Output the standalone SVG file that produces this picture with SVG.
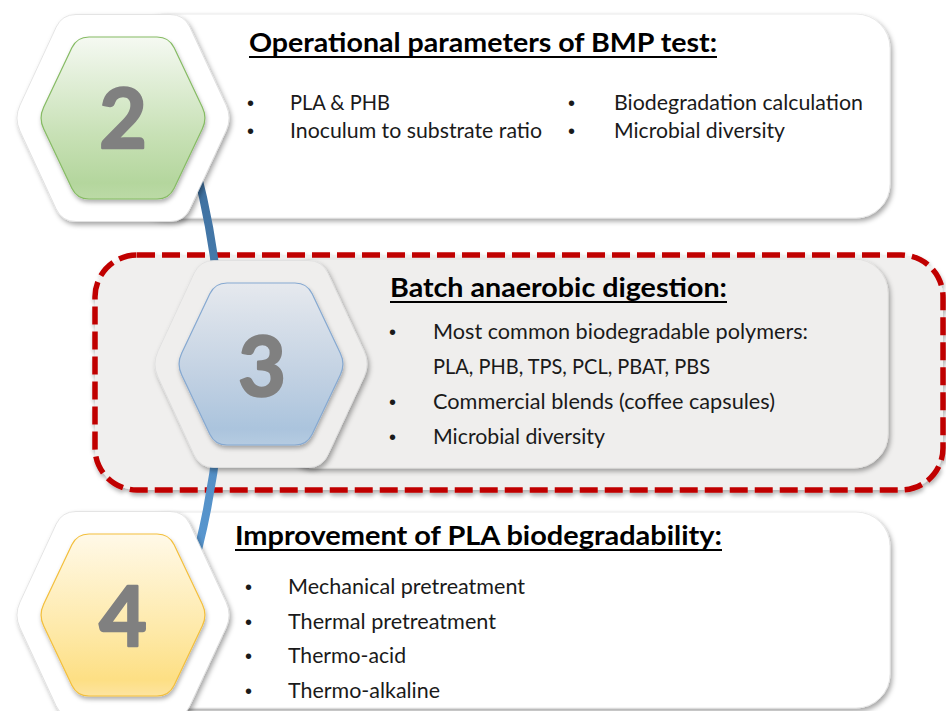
<svg xmlns="http://www.w3.org/2000/svg" width="946" height="711" viewBox="0 0 946 711">
<defs>
<style>
.title{font-family:Lato,"Liberation Sans",sans-serif;font-weight:bold;font-size:27px;fill:#000}
.body{font-family:Lato,"Liberation Sans",sans-serif;font-size:21px;fill:#1a1a1a}
.bul{font-family:"Liberation Sans",sans-serif;font-size:20px;fill:#1a1a1a}
.num{font-family:Lato,"Liberation Sans",sans-serif;font-weight:bold;font-size:82px;fill:#808080;stroke:#808080;stroke-width:2.5;stroke-linejoin:round;text-anchor:middle}
.ul{stroke:#000;stroke-width:2}
.card{fill:#fff;stroke:#e4e4e4;stroke-width:0.8}
.outer{stroke:#dedede;stroke-width:0.8}
</style>
<filter id="sh" x="-10%" y="-10%" width="125%" height="130%">
<feDropShadow dx="2" dy="3" stdDeviation="2.5" flood-color="#000" flood-opacity="0.35"/>
</filter>
<filter id="shd" x="-5%" y="-10%" width="110%" height="130%">
<feDropShadow dx="1" dy="3" stdDeviation="2" flood-color="#000" flood-opacity="0.3"/>
</filter>
<linearGradient id="gGreen" x1="0" y1="0" x2="0" y2="1">
<stop offset="0" stop-color="#f5f9f2"/><stop offset="0.6" stop-color="#c8e1b6"/><stop offset="0.9" stop-color="#b4d69d"/><stop offset="1" stop-color="#bcdaa6"/>
</linearGradient>
<linearGradient id="gBlue" x1="0" y1="0" x2="0" y2="1">
<stop offset="0" stop-color="#e6e9ee"/><stop offset="0.6" stop-color="#c0d0e2"/><stop offset="0.9" stop-color="#abc4dd"/><stop offset="1" stop-color="#b5cbe1"/>
</linearGradient>
<linearGradient id="gYellow" x1="0" y1="0" x2="0" y2="1">
<stop offset="0" stop-color="#fff9e8"/><stop offset="0.6" stop-color="#fee9a8"/><stop offset="0.9" stop-color="#fddf84"/><stop offset="1" stop-color="#fde4a0"/>
</linearGradient>
<linearGradient id="gLine" gradientUnits="userSpaceOnUse" x1="0" y1="140" x2="0" y2="586">
<stop offset="0" stop-color="#3c6c9a"/><stop offset="1" stop-color="#5b9bd5"/>
</linearGradient>
<path id="hexOuter" d="M -47,-103.5 L 47,-103.5 Q 61,-103.5 66.9,-90.8 L 103.1,-12.7 Q 109,0 103.1,12.7 L 66.9,90.8 Q 61,103.5 47,103.5 L -47,103.5 Q -61,103.5 -66.9,90.8 L -103.1,12.7 Q -109,0 -103.1,-12.7 L -66.9,-90.8 Q -61,-103.5 -47,-103.5 Z"/>
<path id="hexInner" d="M -34,-81 L 34,-81 Q 46,-81 51.15,-70.2 L 79.35,-10.8 Q 84.5,0 79.35,10.8 L 51.15,70.2 Q 46,81 34,81 L -34,81 Q -46,81 -51.15,70.2 L -79.35,10.8 Q -84.5,0 -79.35,-10.8 L -51.15,-70.2 Q -46,-81 -34,-81 Z"/>
</defs>
<rect width="946" height="711" fill="#fff"/>

<!-- highlight frame -->
<g id="highlight">
<rect x="95" y="255" width="848" height="235" rx="42" fill="#f0efee" stroke="#c00000" stroke-width="5.5" stroke-dasharray="18 7" filter="url(#shd)"/>
</g>

<!-- cards -->
<g id="card2">
<rect class="card" x="130" y="14" width="760" height="204" rx="34" filter="url(#sh)"/>
<text class="title" x="249" y="52" textLength="468" lengthAdjust="spacingAndGlyphs">Operational parameters of BMP test:</text>
<line class="ul" x1="249" y1="57" x2="717" y2="57"/>
<text class="bul" x="247" y="110">•</text>
<text class="body" x="290" y="110" textLength="100" lengthAdjust="spacingAndGlyphs">PLA &amp; PHB</text>
<text class="bul" x="247" y="138">•</text>
<text class="body" x="290" y="138" textLength="252" lengthAdjust="spacingAndGlyphs">Inoculum to substrate ratio</text>
<text class="bul" x="568" y="110">•</text>
<text class="body" x="614" y="110" textLength="249" lengthAdjust="spacingAndGlyphs">Biodegradation calculation</text>
<text class="bul" x="568" y="138">•</text>
<text class="body" x="614" y="138" textLength="171" lengthAdjust="spacingAndGlyphs">Microbial diversity</text>
</g>

<g id="card3">
<rect x="280" y="259" width="608" height="209" rx="34" fill="#efeeed" stroke="#e2e1e0" stroke-width="0.8" filter="url(#sh)"/>
<text class="title" x="390" y="297" textLength="337" lengthAdjust="spacingAndGlyphs">Batch anaerobic digestion:</text>
<line class="ul" x1="390" y1="302" x2="727" y2="302"/>
<text class="bul" x="389" y="339">•</text>
<text class="body" x="433" y="339" textLength="375" lengthAdjust="spacingAndGlyphs">Most common biodegradable polymers:</text>
<text class="body" x="433" y="374" textLength="277" lengthAdjust="spacingAndGlyphs">PLA, PHB, TPS, PCL, PBAT, PBS</text>
<text class="bul" x="389" y="409">•</text>
<text class="body" x="433" y="409" textLength="342" lengthAdjust="spacingAndGlyphs">Commercial blends (coffee capsules)</text>
<text class="bul" x="389" y="444">•</text>
<text class="body" x="433" y="444" textLength="172" lengthAdjust="spacingAndGlyphs">Microbial diversity</text>
</g>

<g id="card4">
<rect class="card" x="130" y="512" width="760" height="196" rx="34" filter="url(#sh)"/>
<text class="title" x="235" y="545" textLength="487" lengthAdjust="spacingAndGlyphs">Improvement of PLA biodegradability:</text>
<line class="ul" x1="235" y1="550" x2="722" y2="550"/>
<text class="bul" x="245" y="594">•</text>
<text class="body" x="288" y="594" textLength="237" lengthAdjust="spacingAndGlyphs">Mechanical pretreatment</text>
<text class="bul" x="245" y="629">•</text>
<text class="body" x="288" y="629" textLength="208" lengthAdjust="spacingAndGlyphs">Thermal pretreatment</text>
<text class="bul" x="245" y="663">•</text>
<text class="body" x="288" y="663" textLength="118" lengthAdjust="spacingAndGlyphs">Thermo-acid</text>
<text class="bul" x="245" y="698">•</text>
<text class="body" x="288" y="698" textLength="152" lengthAdjust="spacingAndGlyphs">Thermo-alkaline</text>
</g>

<!-- connectors -->
<g id="connectors">
<path d="M 188,140 Q 255,363 188,586" fill="none" stroke="url(#gLine)" stroke-width="8"/>
</g>

<!-- hexagon nodes -->
<g id="hex2" transform="translate(123,118)">
<use href="#hexOuter" class="outer" fill="#fff" filter="url(#sh)"/>
<use href="#hexInner" fill="url(#gGreen)" stroke="#86bb64" stroke-width="1.2" filter="url(#shd)"/>
<text class="num" x="0" y="30">2</text>
</g>
<g id="hex3" transform="translate(261,364)">
<use href="#hexOuter" class="outer" fill="#efeeed" filter="url(#sh)"/>
<use href="#hexInner" fill="url(#gBlue)" stroke="#86a9d1" stroke-width="1.2" filter="url(#shd)"/>
<text class="num" x="1" y="32">3</text>
</g>
<g id="hex4" transform="translate(123,615)">
<use href="#hexOuter" class="outer" fill="#fff" filter="url(#sh)"/>
<use href="#hexInner" fill="url(#gYellow)" stroke="#f3bf3c" stroke-width="1.2" filter="url(#shd)"/>
<text class="num" x="0" y="31">4</text>
</g>
</svg>
